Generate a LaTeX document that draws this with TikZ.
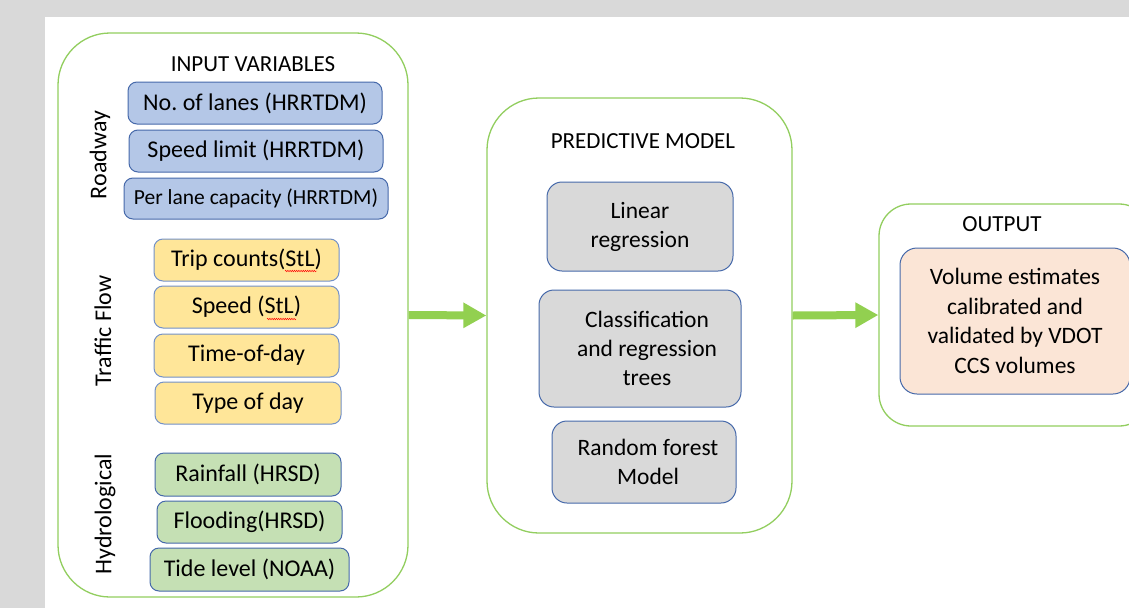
\documentclass[tikz,border=0pt]{standalone}
\usepackage{fontspec}
\setmainfont{Carlito}
\usetikzlibrary{arrows.meta,decorations.pathmorphing}
\frenchspacing
\definecolor{bggray}{RGB}{217,217,217}
\definecolor{grpgreen}{RGB}{146,206,95}
\definecolor{arrgreen}{RGB}{146,208,80}
\definecolor{edgeblue}{RGB}{70,105,170}
\definecolor{edgelight}{RGB}{115,145,200}
\definecolor{fillblue}{RGB}{180,199,231}
\definecolor{fillyellow}{RGB}{255,230,153}
\definecolor{fillgreen}{RGB}{197,224,180}
\definecolor{fillgray}{RGB}{217,217,217}
\definecolor{fillpeach}{RGB}{251,229,214}
\tikzset{
  group/.style={draw=grpgreen, line width=1.3pt, rounded corners=#1, inner sep=0pt, fill=white},
  group/.default=50pt,
  itembox/.style={draw=edgeblue, line width=1pt, rounded corners=9pt, inner sep=0pt,
    font=\fontsize{24}{28}\selectfont, align=center},
  bluebox/.style={itembox, fill=fillblue},
  yellowbox/.style={itembox, fill=fillyellow, draw=edgelight},
  greenbox/.style={itembox, fill=fillgreen},
  graybox/.style={itembox, fill=fillgray, rounded corners=15pt, font=\fontsize{23.5}{29}\selectfont},
  peachbox/.style={itembox, fill=fillpeach, rounded corners=17pt, font=\fontsize{23.5}{29.5}\selectfont},
  title/.style={inner sep=0pt, font=\fontsize{23}{27}\selectfont},
  sidelabel/.style={inner sep=0pt, rotate=90, font=\fontsize{24}{28}\selectfont},
  bigarrow/.style={draw=arrgreen, line width=8pt, -{Triangle[length=23pt,width=24pt]}},
  spell/.style={draw=red, line width=0.45pt, decorate, decoration={snake, amplitude=0.8pt, segment length=2.2pt}}
}
\begin{document}
\begin{tikzpicture}[x=1pt,y=-1pt]
\useasboundingbox (0,0) rectangle (1129,608);
\clip (0,0) rectangle (1129,608);
\fill[bggray] (0,0) rectangle (1129,608);
\fill[white] (45,17) rectangle (1129,608);

% groups
\node[group=52pt, minimum width=350pt, minimum height=564pt] (input) at (233,315) {};
\node[group=52pt, minimum width=305pt, minimum height=435pt] (pred) at (639.5,315.5) {};
\node[group=32pt, minimum width=272pt, minimum height=222pt] (out) at (1015,315) {};

% titles
\node[title] (tin) at (253,64) {INPUT VARIABLES};
\node[title] (tpred) at (643,141) {PREDICTIVE MODEL};
\node[title] (tout) at (1002,224) {OUTPUT};

% side labels
\node[sidelabel] (lroad) at (100,155) {Roadway};
\node[sidelabel] (ltraf) at (103,331) {Traffic Flow};
\node[sidelabel] (lhyd) at (105,514) {Hydrological};

% roadway
\node[bluebox, minimum width=254pt, minimum height=42pt] (b1) at (255,103) {No. of lanes (HRRTDM)};
\node[bluebox, minimum width=254pt, minimum height=42pt] (b2) at (256,151) {Speed limit (HRRTDM)};
\node[bluebox, minimum width=264pt, minimum height=41pt, font=\fontsize{21.5}{25}\selectfont] (b3) at (256,198.5) {Per lane capacity (HRRTDM)};

% traffic flow
\node[yellowbox, minimum width=185pt, minimum height=42pt] (y1) at (246.5,260) {Trip counts(StL)};
\node[yellowbox, minimum width=185pt, minimum height=42pt] (y2) at (246.5,307) {Speed (StL)};
\node[yellowbox, minimum width=185pt, minimum height=43pt] (y3) at (246.5,355.5) {Time-of-day};
\node[yellowbox, minimum width=186pt, minimum height=42pt] (y4) at (248,403) {Type of day};
\draw[spell] (285,271) -- (317,271);
\draw[spell] (267,319) -- (296,319);

% hydrological
\node[greenbox, minimum width=186pt, minimum height=43pt] (g1) at (248,474.5) {Rainfall (HRSD)};
\node[greenbox, minimum width=185pt, minimum height=42pt] (g2) at (249.5,522) {Flooding(HRSD)};
\node[greenbox, minimum width=199pt, minimum height=43pt] (g3) at (249.5,569.5) {Tide level (NOAA)};

% models
\node[graybox, minimum width=186pt, minimum height=89pt] (m1) at (640,226.5) {Linear\\regression};
\node[graybox, minimum width=202pt, minimum height=117pt] (m2) at (640,348.5) {\hspace*{14pt}Classification\\\hspace*{14pt}and regression\\\hspace*{14pt}trees};
\node[graybox, minimum width=184pt, minimum height=82pt] (m3) at (644,462) {\hspace*{8pt}Random forest\\\hspace*{8pt}Model};

% output
\node[peachbox, minimum width=230pt, minimum height=146pt] (res) at (1015,321) {Volume estimates\\calibrated and\\validated by VDOT\\CCS volumes};

% arrows
\draw[bigarrow] (input.east) -- (pred.west);
\draw[bigarrow] (pred.east) -- (out.west);
\end{tikzpicture}
\end{document}
